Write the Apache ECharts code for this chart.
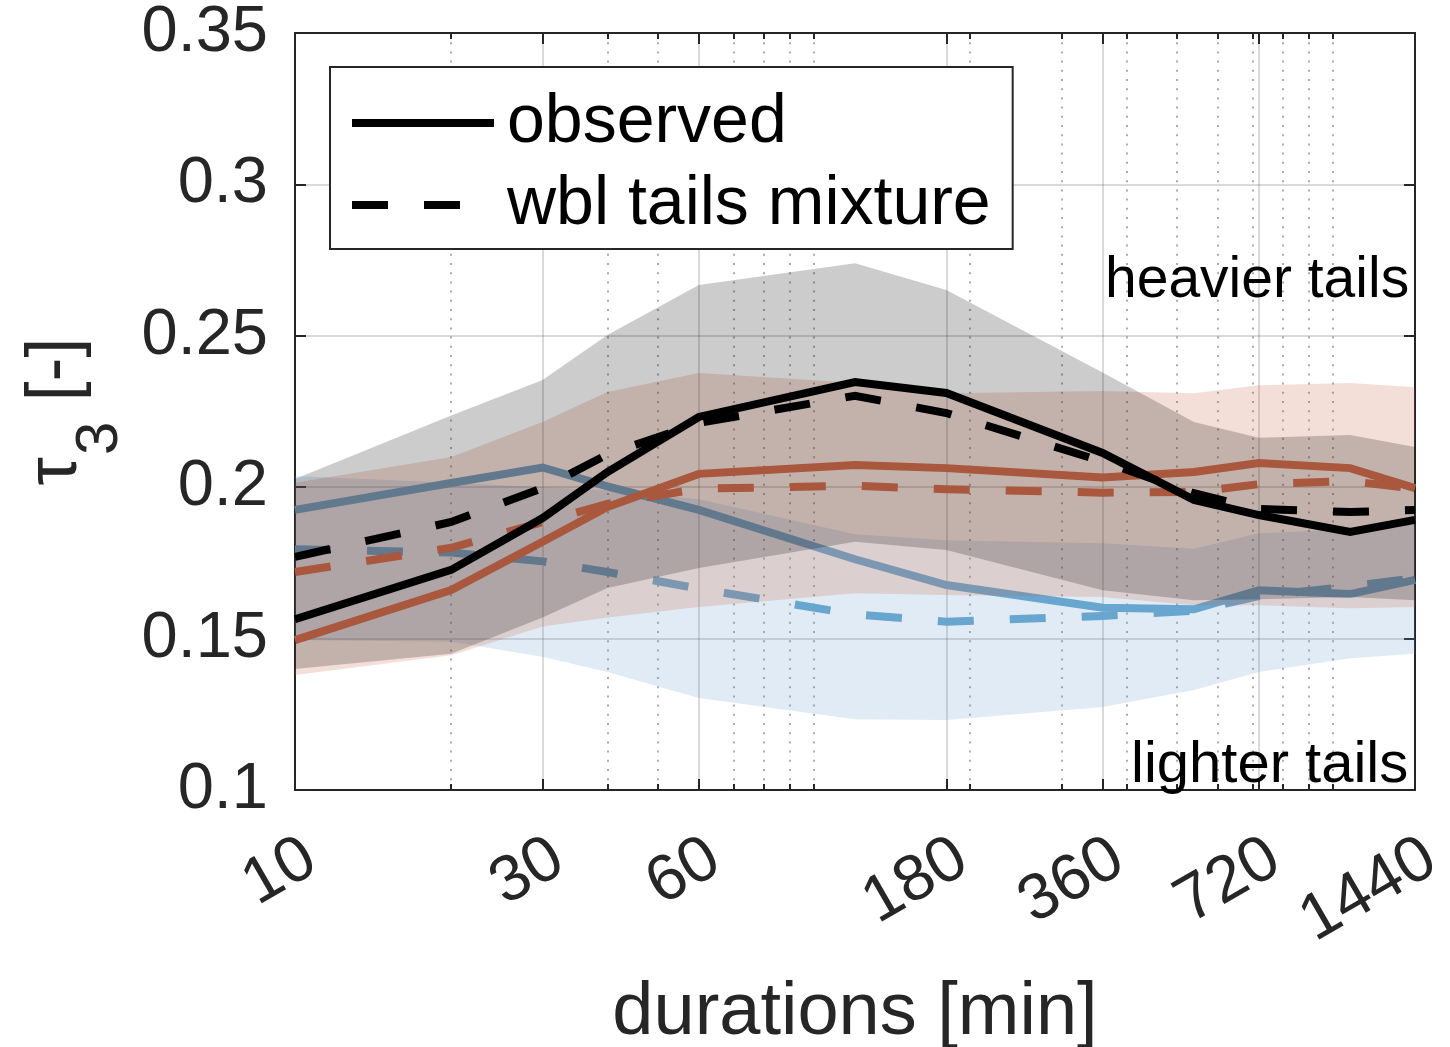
<!DOCTYPE html>
<html>
<head>
<meta charset="utf-8">
<script src="https://cdn.jsdelivr.net/npm/echarts@6/dist/echarts.min.js"></script>
<style>
html,body{margin:0;padding:0;background:#ffffff;}
#chart{width:1450px;height:1047px;}
</style>
</head>
<body>
<div id="chart"></div>
<script>
// ---------- data ----------
const durations = [10, 20, 30, 40, 60, 120, 180, 360, 540, 720, 1080, 1440];
const xTickLabels = [10, 30, 60, 180, 360, 720, 1440];
const xMinorTicks = [20, 40, 50, 70, 80, 90, 100, 200, 300, 400, 500, 600, 700, 800, 900, 1000];
const yTickLabels = [0.1, 0.15, 0.2, 0.25, 0.3, 0.35];

const obsObserved   = [0.1564, 0.1727, 0.1898, 0.2050, 0.2232, 0.2347, 0.2311, 0.2113, 0.1958, 0.1908, 0.1852, 0.1892];
const obsMixture    = [0.1770, 0.1885, 0.1997, 0.2108, 0.2212, 0.2302, 0.2245, 0.2085, 0.1980, 0.1928, 0.1918, 0.1925];
const redObserved   = [0.1495, 0.1660, 0.1820, 0.1935, 0.2044, 0.2073, 0.2063, 0.2032, 0.2050, 0.2080, 0.2063, 0.1997];
const redMixture    = [0.1720, 0.1800, 0.1885, 0.1945, 0.1995, 0.2005, 0.1993, 0.1982, 0.1984, 0.2010, 0.2020, 0.1995];
const blueObserved  = [0.1925, 0.2014, 0.2065, 0.2003, 0.1925, 0.1762, 0.1677, 0.1602, 0.1597, 0.1660, 0.1647, 0.1694];
const blueMixture   = [0.1795, 0.1784, 0.1755, 0.1720, 0.1665, 0.1580, 0.1556, 0.1575, 0.1592, 0.1640, 0.1672, 0.1700];

const grayUpper = [0.2027, 0.2237, 0.2354, 0.2503, 0.2668, 0.2740, 0.2651, 0.2379, 0.2215, 0.2163, 0.2172, 0.2133];
const grayLower = [0.1400, 0.1450, 0.1570, 0.1667, 0.1733, 0.1820, 0.1793, 0.1660, 0.1627, 0.1630, 0.1637, 0.1627];
const redUpper  = [0.2015, 0.2100, 0.2215, 0.2314, 0.2377, 0.2345, 0.2310, 0.2318, 0.2310, 0.2337, 0.2344, 0.2330];
const redLower  = [0.1380, 0.1445, 0.1540, 0.1570, 0.1604, 0.1650, 0.1644, 0.1637, 0.1610, 0.1610, 0.1600, 0.1604];
const blueUpper = [0.2037, 0.2015, 0.2000, 0.1990, 0.1960, 0.1845, 0.1825, 0.1815, 0.1797, 0.1848, 0.1860, 0.1890];
const blueLower = [0.1495, 0.1490, 0.1440, 0.1390, 0.1304, 0.1234, 0.1231, 0.1274, 0.1330, 0.1390, 0.1435, 0.1450];

// ---------- helpers ----------
const FONT = "'Liberation Sans', Arial, Helvetica, sans-serif";
const lx = durations.map(d => Math.log10(d));
const xMin = Math.log10(xTickLabels[0]);
const xMax = Math.log10(xTickLabels[xTickLabels.length - 1]);
const majorVals = xTickLabels.map(v => Math.log10(v));
const minorVals = xMinorTicks.map(v => Math.log10(v));

function pts(vals) { return lx.map((x, i) => [x, vals[i]]); }

function band(name, upper, lower, color, z) {
  return {
    type: 'custom', name: name, z: z, silent: true, clip: true,
    xAxisIndex: 0, yAxisIndex: 0,
    data: lx.map((x, i) => [x, upper[i], lower[i]]),
    encode: { x: 0, y: [1, 2] },
    renderItem: function (params, api) {
      if (params.dataIndex !== 0) return;
      const poly = [];
      for (let i = 0; i < lx.length; i++) poly.push(api.coord([lx[i], upper[i]]));
      for (let i = lx.length - 1; i >= 0; i--) poly.push(api.coord([lx[i], lower[i]]));
      return { type: 'polygon', shape: { points: poly }, style: { fill: color } };
    }
  };
}

function line(name, vals, color, dashed, z) {
  return {
    type: 'line', name: name, z: z, data: pts(vals),
    symbol: 'none', silent: true, clip: true,
    xAxisIndex: 0, yAxisIndex: 0,
    lineStyle: { color: color, width: 8, type: dashed ? [36, 36] : 'solid', cap: 'butt', join: 'miter' },
    itemStyle: { color: color }
  };
}

const tickColor = '#262626';
function xAx(pos, vals, len, extra) {
  return Object.assign({
    type: 'value', position: pos, min: xMin, max: xMax,
    axisLine: { show: false },
    axisTick: { show: true, inside: true, length: len, customValues: vals, lineStyle: { color: tickColor, width: 2 } },
    axisLabel: { show: false },
    splitLine: { show: false }
  }, extra || {});
}

const chart = echarts.init(document.getElementById('chart'), null, { renderer: 'canvas' });
chart.setOption({
  animation: false,
  backgroundColor: '#ffffff',
  grid: { left: 295, right: 35, top: 33, bottom: 257, show: true, borderColor: '#262626', borderWidth: 2,
          backgroundColor: 'transparent', containLabel: false, outerBoundsMode: 'none' },
  xAxis: [
    xAx('bottom', majorVals, 11, {
      axisLabel: {
        show: true, customValues: majorVals, rotate: 30, margin: 36, verticalAlign: 'top',
        fontSize: 65, fontFamily: FONT, color: '#262626',
        formatter: v => String(Math.round(Math.pow(10, v)))
      },
      splitLine: { show: true, lineStyle: { color: 'rgba(38,38,38,0.17)', width: 2 } },
      name: 'durations [min]', nameLocation: 'middle', nameGap: 187,
      nameTextStyle: { fontSize: 74, fontFamily: FONT, color: '#262626' }
    }),
    xAx('top', majorVals, 11),
    xAx('bottom', minorVals, 6, {
      splitLine: { show: true, lineStyle: { color: 'rgba(38,38,38,0.38)', width: 2, type: [2, 7.2] } }
    }),
    xAx('top', minorVals, 6)
  ],
  yAxis: [
    {
      type: 'value', position: 'left', min: yTickLabels[0], max: yTickLabels[yTickLabels.length - 1], interval: 0.05,
      axisLine: { show: false },
      axisTick: { show: true, inside: true, length: 11, lineStyle: { color: tickColor, width: 2 } },
      axisLabel: { margin: 27, fontSize: 65, fontFamily: FONT, color: '#262626' },
      splitLine: { show: true, lineStyle: { color: 'rgba(38,38,38,0.17)', width: 2 } },
      name: '{t|τ}{s|3}{r| [-]}', nameLocation: 'middle', nameRotate: 90, nameGap: 172,
      nameTextStyle: {
        color: '#262626', fontFamily: FONT,
        rich: {
          t: { fontSize: 72, lineHeight: 80, verticalAlign: 'top', fontFamily: FONT, color: '#262626' },
          s: { fontSize: 60, lineHeight: 60, padding: [50, 0, 0, 2], verticalAlign: 'top', fontFamily: FONT, color: '#262626' },
          r: { fontSize: 72, lineHeight: 80, verticalAlign: 'top', fontFamily: FONT, color: '#262626' }
        }
      }
    },
    {
      type: 'value', position: 'right', min: yTickLabels[0], max: yTickLabels[yTickLabels.length - 1], interval: 0.05,
      axisLine: { show: false },
      axisTick: { show: true, inside: true, length: 11, lineStyle: { color: tickColor, width: 2 } },
      axisLabel: { show: false },
      splitLine: { show: false }
    }
  ],
  legend: {
    left: 330, top: 67, orient: 'vertical',
    data: ['observed', 'wbl tails mixture'],
    selectedMode: false,
    itemWidth: 142, itemHeight: 20, itemGap: 14,
    padding: [22, 22, 10, 18],
    backgroundColor: '#ffffff', borderColor: '#262626', borderWidth: 2, borderRadius: 0,
    lineStyle: { width: 8 },
    itemStyle: { opacity: 0 },
    textStyle: { fontSize: 68, fontFamily: FONT, color: '#000000', padding: [0, 0, 0, 8], lineHeight: 66 }
  },
  graphic: [
    { type: 'text', left: 1105, top: 253, z: 50, silent: true,
      style: { text: 'heavier tails', font: '57px ' + FONT, fill: '#000000' } },
    { type: 'text', left: 1131, top: 737, z: 50, silent: true,
      style: { text: 'lighter tails', font: '58px ' + FONT, fill: '#000000' } }
  ],
  series: [
    band('blue band', blueUpper, blueLower, 'rgba(100,155,205,0.2)', 2),
    line('blue observed', blueObserved, '#68a6cf', false, 3),
    line('blue mixture', blueMixture, '#68a6cf', true, 3),
    band('red band', redUpper, redLower, 'rgba(200,95,60,0.2)', 4),
    band('gray band', grayUpper, grayLower, 'rgba(0,0,0,0.2)', 5),
    line('red observed', redObserved, '#a9573d', false, 6),
    line('red mixture', redMixture, '#a9573d', true, 6),
    line('observed', obsObserved, '#000000', false, 7),
    line('wbl tails mixture', obsMixture, '#000000', true, 7)
  ]
});
</script>
</body>
</html>
